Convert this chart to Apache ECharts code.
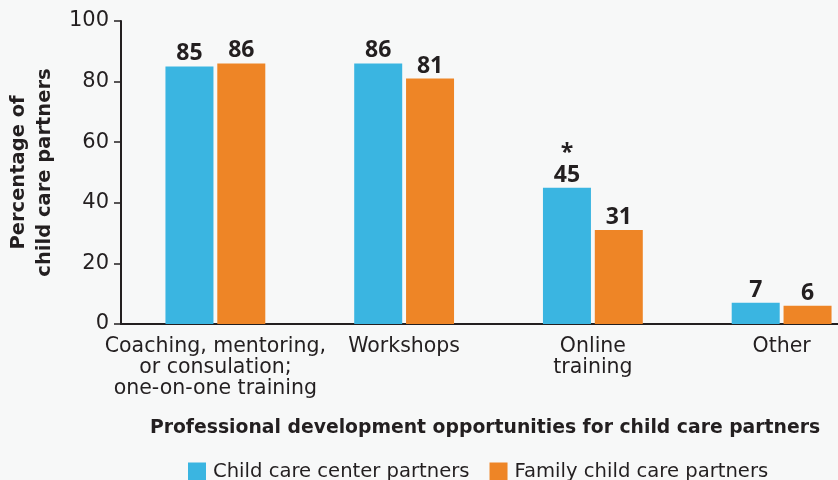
<!DOCTYPE html>
<html><head><meta charset="utf-8">
<script src="https://cdn.jsdelivr.net/npm/echarts@6/dist/echarts.min.js"></script>
<style>html,body{margin:0;padding:0;background:#f7f8f8}#c{width:838px;height:480px}</style>
</head><body><div id="c"></div>
<script>
var categories = ['Coaching, mentoring,\nor consulation;\none-on-one training', 'Workshops', 'Online\ntraining', 'Other'];
var centerValues = [85, 86, 45, 7];
var familyValues = [86, 81, 31, 6];
var centerNotes = ['', '', '*', ''];
var yTicks = [0, 20, 40, 60, 80, 100];
var seriesNames = ['Child care center partners', 'Family child care partners'];
var FONT = 'DejaVu Sans';
var VFONT = 'Open Sans';
var chart = echarts.init(document.getElementById('c'));
var labelStyle = {show: true, position: 'top', distance: 1, color: '#231f20', fontSize: 23, fontWeight: 'bold', fontFamily: VFONT};
chart.setOption({
  backgroundColor: '#f7f8f8',
  textStyle: {fontFamily: FONT},
  title: {text: 'Professional development opportunities for child care partners', left: 480, top: 414, textAlign: 'center',
    textStyle: {fontSize: 18.8, fontWeight: 'bold', color: '#231f20', fontFamily: FONT}},
  legend: {data: seriesNames, left: 183, top: 457, itemWidth: 18, itemHeight: 19, itemGap: 20, icon: 'rect',
    textStyle: {fontSize: 19.6, color: '#231f20', fontFamily: FONT, padding: [0, 0, 0, 2]}},
  grid: {left: 121, right: -38, top: 21, bottom: 156, outerBoundsMode: 'none', containLabel: false},
  xAxis: {type: 'category', data: categories,
    axisLine: {lineStyle: {color: '#231f20', width: 2}}, axisTick: {show: false},
    axisLabel: {fontSize: 20.5, color: '#231f20', lineHeight: 21, margin: 12, interval: 0, fontFamily: FONT}},
  yAxis: {type: 'value', min: 0, max: 100, interval: 20,
    name: 'Percentage of\nchild care partners', nameLocation: 'middle', nameGap: 60, nameRotate: 90,
    nameTextStyle: {fontSize: 19.5, fontWeight: 'bold', color: '#231f20', lineHeight: 26, fontFamily: FONT},
    axisLine: {show: true, lineStyle: {color: '#231f20', width: 2}},
    axisTick: {show: true, length: 7, lineStyle: {color: '#231f20', width: 1.5}},
    splitLine: {show: false},
    axisLabel: {fontSize: 21, color: '#231f20', margin: 12, fontFamily: FONT,
      formatter: function (v) { return yTicks.indexOf(v) >= 0 ? String(v) : ''; }}},
  series: [
    {name: seriesNames[0], type: 'bar', data: centerValues, barWidth: 48, barGap: '8%',
      itemStyle: {color: '#3ab5e1'},
      label: Object.assign({}, labelStyle, {
        formatter: function (p) { var n = centerNotes[p.dataIndex]; return n ? '{s|' + n + '}\n' + p.value : String(p.value); },
        rich: {s: {fontSize: 23, fontWeight: 'bold', color: '#231f20', lineHeight: 20, fontFamily: VFONT}}})},
    {name: seriesNames[1], type: 'bar', data: familyValues, barWidth: 48,
      itemStyle: {color: '#ee8526'}, label: labelStyle}
  ]
});
</script></body></html>
